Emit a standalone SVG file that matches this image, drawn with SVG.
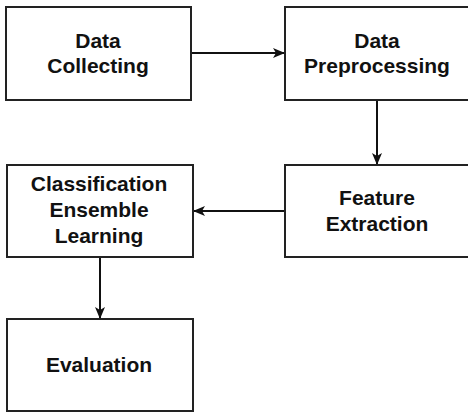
<svg xmlns="http://www.w3.org/2000/svg" width="468" height="412" viewBox="0 0 468 412">
<style>
.box{fill:#fff;stroke:#222;stroke-width:2}
.lbl{font-family:"Liberation Sans",Arial,sans-serif;font-weight:bold;font-size:21px;fill:#111;text-anchor:middle}
.conn{stroke:#111;stroke-width:2;fill:none}
</style>
<defs>
<marker id="arr" viewBox="0 0 12 12" refX="11" refY="6" markerWidth="12" markerHeight="12" markerUnits="userSpaceOnUse" orient="auto">
<path d="M0,1 L12,6 L0,11 L3,6 Z" fill="#111"/>
</marker>
</defs>
<rect width="468" height="412" fill="#fff"/>
<g id="connectors">
<line class="conn" x1="191" y1="53" x2="284" y2="53" marker-end="url(#arr)"/>
<line class="conn" x1="377" y1="100" x2="377" y2="164" marker-end="url(#arr)"/>
<line class="conn" x1="285" y1="211" x2="194" y2="211" marker-end="url(#arr)"/>
<line class="conn" x1="100" y1="257" x2="100" y2="318" marker-end="url(#arr)"/>
</g>
<g id="n-collect">
<rect class="box" x="6" y="7" width="185" height="93"/>
<text class="lbl" x="98" y="48">Data</text>
<text class="lbl" x="98" y="73">Collecting</text>
</g>
<g id="n-preprocess">
<rect class="box" x="285" y="7" width="184" height="93"/>
<text class="lbl" x="377" y="48">Data</text>
<text class="lbl" x="377" y="73">Preprocessing</text>
</g>
<g id="n-classify">
<rect class="box" x="7" y="165" width="186" height="92"/>
<text class="lbl" x="99" y="191">Classification</text>
<text class="lbl" x="99" y="217">Ensemble</text>
<text class="lbl" x="99" y="243">Learning</text>
</g>
<g id="n-feature">
<rect class="box" x="285" y="165" width="184" height="92"/>
<text class="lbl" x="377" y="205">Feature</text>
<text class="lbl" x="377" y="231">Extraction</text>
</g>
<g id="n-eval">
<rect class="box" x="7" y="319" width="186" height="92"/>
<text class="lbl" x="99" y="372">Evaluation</text>
</g>
</svg>
